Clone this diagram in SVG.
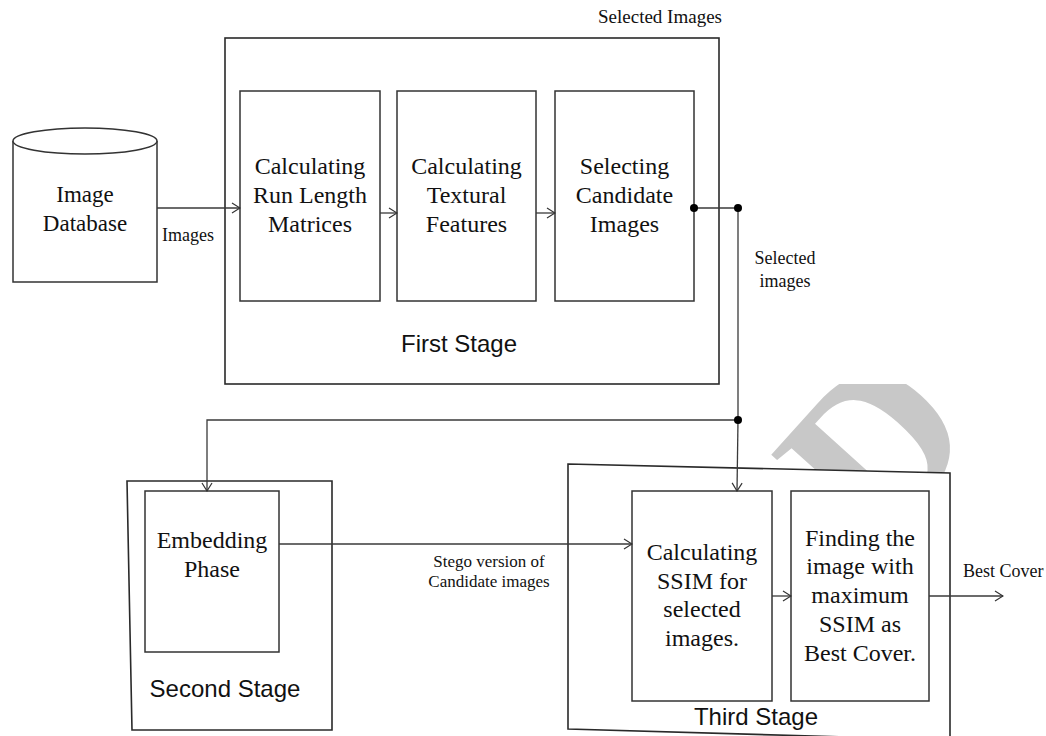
<svg xmlns="http://www.w3.org/2000/svg" width="1046" height="736" viewBox="0 0 1046 736">
<style>
.box{fill:#fff;stroke:#333;stroke-width:1.5}
.frame{fill:#fff;stroke:#2a2a2a;stroke-width:1.6}
.t{font-family:"Liberation Serif","Times New Roman",serif;font-size:24px;fill:#111;text-anchor:middle}
.s{font-family:"Liberation Sans",Arial,sans-serif;font-size:24px;fill:#111;text-anchor:middle}
.lbl{font-family:"Liberation Serif","Times New Roman",serif;font-size:18px;fill:#111}
.c{fill:none;stroke:#3a3a3a;stroke-width:1.3}
.dot{fill:#000}
</style>
<defs>
<marker id="arr" markerWidth="10" markerHeight="12" refX="9" refY="6" orient="auto" markerUnits="userSpaceOnUse">
<path d="M1,1 L9,6 L1,11" fill="none" stroke="#333" stroke-width="1.2"/>
</marker>
<clipPath id="wmclip"><rect x="560" y="384" width="486" height="352"/></clipPath>
</defs>
<rect width="1046" height="736" fill="#fff"/>
<g id="watermark" clip-path="url(#wmclip)">
<text transform="translate(982,436) rotate(-48)" font-family="Liberation Serif,serif" font-weight="bold" font-size="220" fill="#c8c8c8" text-anchor="end">ED</text>
</g>
<g id="first-stage">
<rect class="frame" x="225" y="38" width="494" height="346"/>
<text class="s" x="459" y="352">First Stage</text>
</g>
<g id="second-stage">
<polygon class="frame" points="127,481 332,481 332,730 132,730"/>
<text class="s" x="225" y="697">Second Stage</text>
</g>
<g id="third-stage">
<polygon class="frame" points="568,464 950,473 950,740 568,729"/>
<text class="s" x="756" y="725">Third Stage</text>
</g>
<g id="image-database">
<path class="box" d="M13,141 L13,282 L157,282 L157,141"/>
<ellipse class="box" cx="85" cy="141" rx="72" ry="13"/>
<text class="t" x="85" y="202" style="font-size:23px">Image</text>
<text class="t" x="85" y="231" style="font-size:23px">Database</text>
</g>
<g id="run-length">
<rect class="box" x="240" y="91" width="140" height="210"/>
<text class="t" x="310" y="174">Calculating</text>
<text class="t" x="310" y="203">Run Length</text>
<text class="t" x="310" y="232">Matrices</text>
</g>
<g id="textural">
<rect class="box" x="397" y="91" width="139" height="210"/>
<text class="t" x="466.5" y="174">Calculating</text>
<text class="t" x="466.5" y="203">Textural</text>
<text class="t" x="466.5" y="232">Features</text>
</g>
<g id="selecting">
<rect class="box" x="555" y="91" width="139" height="210"/>
<text class="t" x="624.5" y="174">Selecting</text>
<text class="t" x="624.5" y="203">Candidate</text>
<text class="t" x="624.5" y="232">Images</text>
</g>
<g id="embedding">
<rect class="box" x="145" y="491" width="134" height="161"/>
<text class="t" x="212" y="548">Embedding</text>
<text class="t" x="212" y="577">Phase</text>
</g>
<g id="ssim">
<rect class="box" x="632" y="491" width="140" height="210"/>
<text class="t" x="702" y="560">Calculating</text>
<text class="t" x="702" y="589">SSIM for</text>
<text class="t" x="702" y="617">selected</text>
<text class="t" x="702" y="646">images.</text>
</g>
<g id="best-cover">
<rect class="box" x="791" y="491" width="138" height="210"/>
<text class="t" x="860" y="546">Finding the</text>
<text class="t" x="860" y="574">image with</text>
<text class="t" x="860" y="603">maximum</text>
<text class="t" x="860" y="632">SSIM as</text>
<text class="t" x="860" y="661">Best Cover.</text>
</g>
<g id="connectors">
<line class="c" x1="157" y1="208" x2="240" y2="208" marker-end="url(#arr)"/>
<line class="c" x1="380" y1="213" x2="397" y2="213" marker-end="url(#arr)"/>
<line class="c" x1="536" y1="213" x2="555" y2="213" marker-end="url(#arr)"/>
<line class="c" x1="694" y1="208" x2="738" y2="208"/>
<line class="c" x1="738" y1="208" x2="738" y2="420"/>
<polyline class="c" points="738,420 207,420 207,491" marker-end="url(#arr)"/>
<line class="c" x1="738" y1="420" x2="737" y2="491" marker-end="url(#arr)"/>
<line class="c" x1="279" y1="544" x2="632" y2="544" marker-end="url(#arr)"/>
<line class="c" x1="772" y1="596" x2="791" y2="596" marker-end="url(#arr)"/>
<line class="c" x1="929" y1="596" x2="1003" y2="596" marker-end="url(#arr)"/>
<circle class="dot" cx="694" cy="208" r="4"/>
<circle class="dot" cx="738" cy="208" r="4"/>
<circle class="dot" cx="738" cy="420" r="4"/>
<text class="lbl" x="162" y="241">Images</text>
<text class="lbl" x="660" y="23" text-anchor="middle" style="font-size:19px">Selected Images</text>
<text class="lbl" x="785" y="264" text-anchor="middle">Selected</text>
<text class="lbl" x="785" y="287" text-anchor="middle">images</text>
<text class="lbl" x="489" y="567" text-anchor="middle" style="font-size:17px">Stego version of</text>
<text class="lbl" x="489" y="587" text-anchor="middle" style="font-size:17px">Candidate images</text>
<text class="lbl" x="963" y="577">Best Cover</text>
</g>
</svg>
